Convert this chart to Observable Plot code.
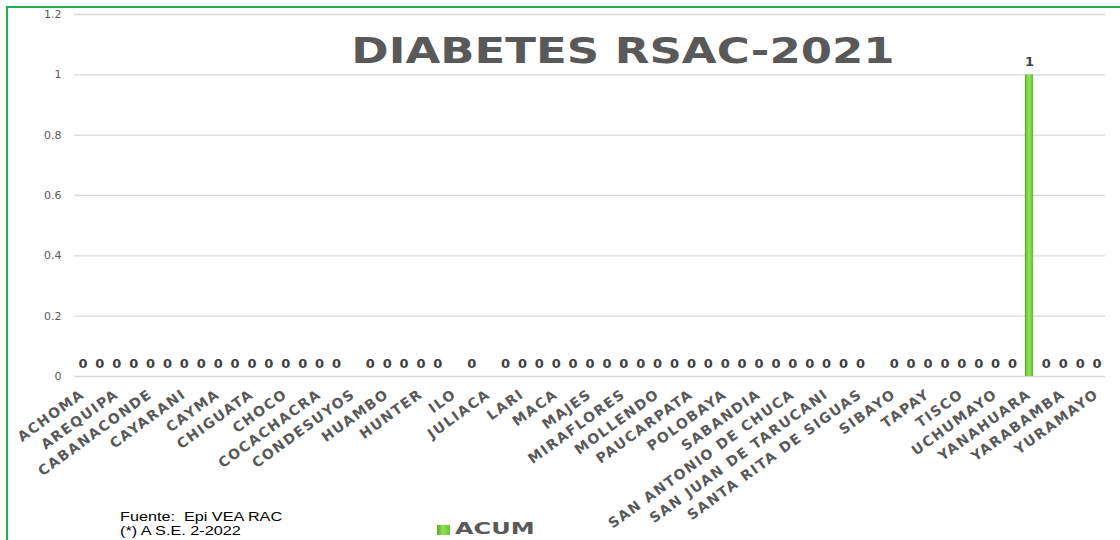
<!DOCTYPE html>
<html>
<head>
<meta charset="utf-8">
<script src="https://cdn.jsdelivr.net/npm/d3@7"></script>
<script src="https://cdn.jsdelivr.net/npm/@observablehq/plot@0.6"></script>
<style>
  body { margin: 0; background: #fff; }
  #wrap { position: relative; width: 1120px; height: 540px; overflow: hidden; background: #fff; }
  #border { position: absolute; left: 6px; top: 6px; width: 1200px; height: 600px; border-left: 2px solid #22b04f; border-top: 2px solid #22b04f; }
  #chart { position: absolute; left: 0; top: 0; }
  #title { position: absolute; left: 623px; top: 33px; font: bold 36px "DejaVu Sans"; line-height: 36px; color: #595959; white-space: nowrap; transform: translateX(-50%) scaleX(1.25); }
  #foot { position: absolute; left: 120px; top: 510px; font: 12px "Liberation Sans"; line-height: 14px; color: #000; white-space: nowrap; transform-origin: 0 0; transform: scaleX(1.35); }
  #legend { position: absolute; left: 437px; top: 521px; height: 16px; white-space: nowrap; }
  #legend .sw { position: absolute; left: 0; top: 4px; width: 13px; height: 10px; background: linear-gradient(to right, #5aa82c, #8ee450 45%, #6cc33a); }
  #legend .lb { position: absolute; left: 18px; top: 0; font: bold 16px "DejaVu Sans"; line-height: 16px; color: #595959; transform-origin: 0 0; transform: scaleX(1.5); }
  #chart g[aria-label="x-axis tick label"] text { letter-spacing: 1.5px; }
</style>
</head>
<body>
<div id="wrap">
  <div id="chart"></div>
  <div id="border"></div>
  <div id="title">DIABETES RSAC-2021</div>
  <div id="foot">Fuente:&nbsp; Epi VEA RAC<br>(*) A S.E. 2-2022</div>
  <div id="legend"><div class="sw"></div><div class="lb">ACUM</div></div>
</div>
<script>
// Categories (every other one is labelled on the axis)
const districts = [
  "ACHOMA", "ALTO SELVA ALEGRE", "AREQUIPA", "AYO", "CABANACONDE", "CALLALLI",
  "CAYARANI", "CAYLLOMA", "CAYMA", "CERRO COLORADO", "CHIGUATA", "CHIVAY",
  "CHOCO", "CHUQUIBAMBA", "COCACHACRA", "COLCA", "CONDESUYOS", "COPORAQUE",
  "HUAMBO", "HUANCA", "HUNTER", "ICHUPAMPA", "ILO", "ISLAY",
  "JULIACA", "LA JOYA", "LARI", "LLUTA", "MACA", "MADRIGAL",
  "MAJES", "MARIANO MELGAR", "MIRAFLORES", "MOLLEBAYA", "MOLLENDO", "PAMPACOLCA",
  "PAUCARPATA", "POCSI", "POLOBAYA", "QUEQUEÑA", "SABANDIA", "SACHACA",
  "SAN ANTONIO DE CHUCA", "SAN JUAN DE SIGUAS", "SAN JUAN DE TARUCANI", "SANTA ISABEL DE SIGUAS", "SANTA RITA DE SIGUAS", "SAYLA",
  "SIBAYO", "SOCABAYA", "TAPAY", "TIABAYA", "TISCO", "TUTI",
  "UCHUMAYO", "VITOR", "YANAHUARA", "YANQUE", "YARABAMBA", "YURA",
  "YURAMAYO"
];
// ACUM values (null = blank cell, no label)
const acum = [
  0, 0, 0, 0, 0, 0, 0, 0, 0, 0, 0, 0, 0, 0, 0, 0,
  null, 0, 0, 0, 0, 0, null, 0, null,
  0, 0, 0, 0, 0, 0, 0, 0, 0, 0, 0, 0, 0, 0, 0, 0, 0, 0, 0, 0, 0, 0,
  null, 0, 0, 0, 0, 0, 0, 0, 0,
  1, 0, 0, 0, 0
];
const xTickLabels = districts.filter((d, i) => i % 2 === 0);
const yTicks = [0, 0.2, 0.4, 0.6, 0.8, 1, 1.2];
const yTickLabels = ["0", "0.2", "0.4", "0.6", "0.8", "1", "1.2"];

const data = districts.map((name, i) => ({name, value: acum[i]}));
const valid = data.filter(d => d.value != null);

const plot = Plot.plot({
  width: 1120,
  height: 540,
  marginLeft: 74,
  marginRight: 15,
  marginTop: 14,
  marginBottom: 164,
  style: {fontFamily: "DejaVu Sans", background: "transparent", overflow: "visible"},
  x: {domain: districts, paddingInner: 0.52, paddingOuter: 0.26, label: null},
  y: {domain: [0, 1.2], label: null},
  marks: [
    Plot.gridY({ticks: yTicks, stroke: "#d9d9d9", strokeOpacity: 1, strokeWidth: 1.4}),
    Plot.axisY({ticks: yTicks, tickFormat: d => yTickLabels[yTicks.indexOf(d)], tickSize: 0, tickPadding: 13, fontSize: 11, fill: "#595959", label: null}),
    Plot.axisX({ticks: xTickLabels, tickRotate: -36, tickSize: 0, tickPadding: 16, fontSize: 14, fontWeight: "bold", fill: "#595959", label: null}),
    Plot.barY(valid, {x: "name", y: "value", fill: "url(#barGrad)"}),
    Plot.text(valid, {x: "name", y: "value", text: d => String(d.value), dy: -13, fontSize: 13, fontWeight: "bold", fill: "#404040"})
  ]
});

d3.select(plot).insert("defs", ":first-child").html(
  '<linearGradient id="barGrad" x1="0" x2="1" y1="0" y2="0">' +
  '<stop offset="0" stop-color="#56a42a"/>' +
  '<stop offset="0.3" stop-color="#7fda44"/>' +
  '<stop offset="0.55" stop-color="#8ee651"/>' +
  '<stop offset="1" stop-color="#62b834"/>' +
  '</linearGradient>');

document.getElementById("chart").appendChild(plot);
</script>
</body>
</html>
